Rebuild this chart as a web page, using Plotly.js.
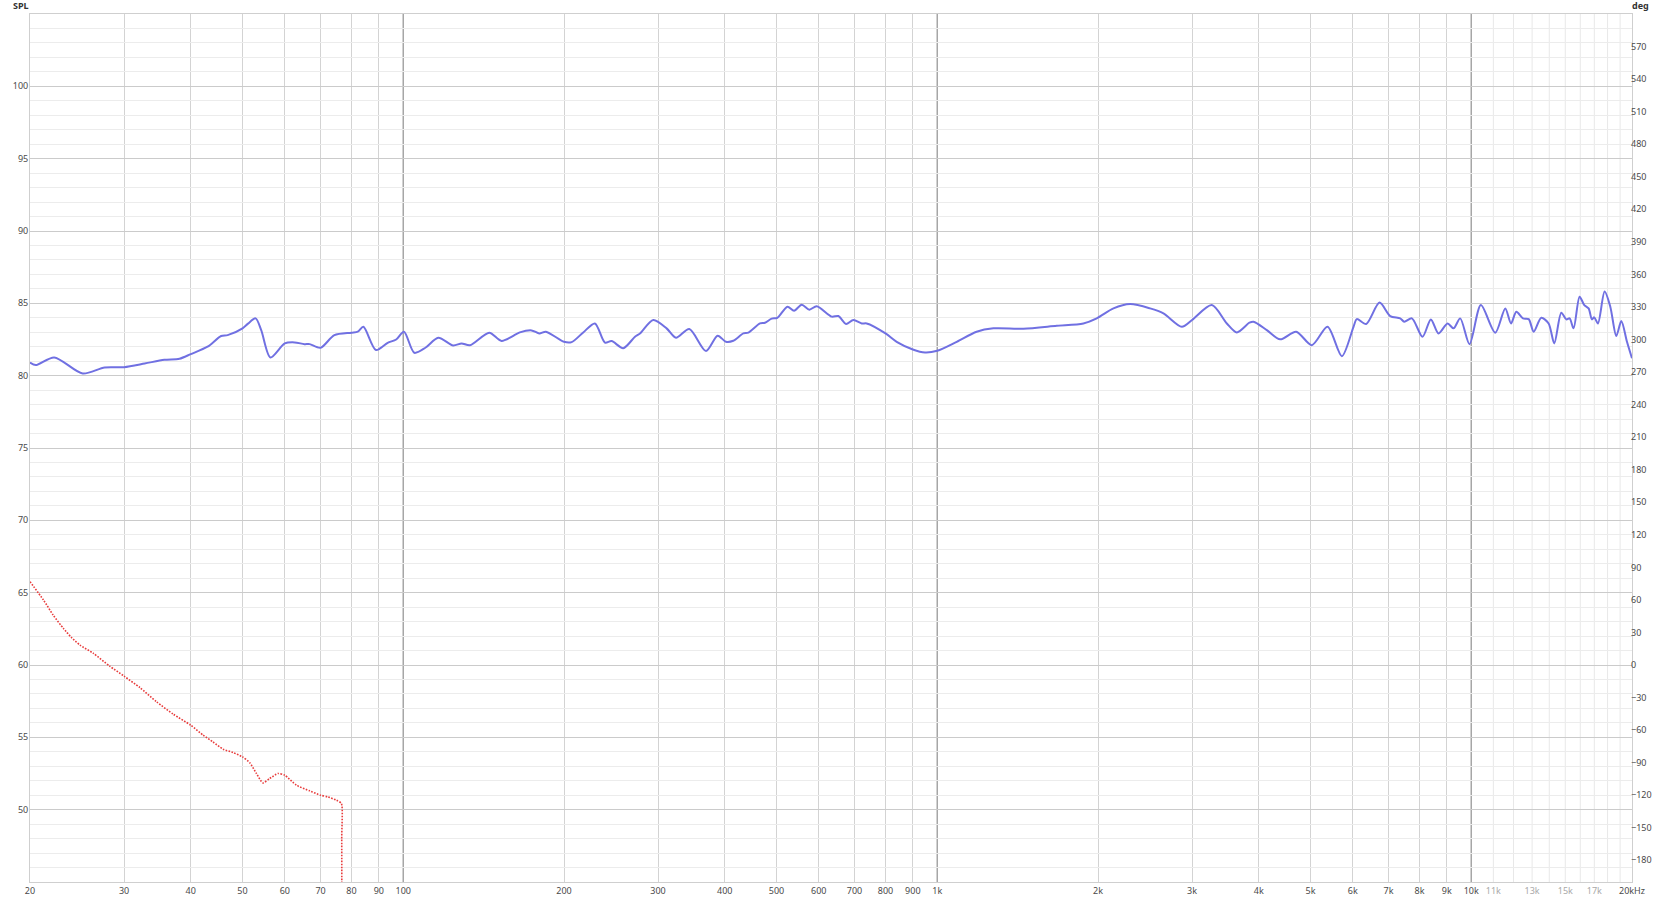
<!DOCTYPE html>
<html><head><meta charset="utf-8">
<script src="https://cdn.plot.ly/plotly-3.0.1.min.js"></script>
<style>html,body{margin:0;padding:0;background:#fff}#chart{width:1670px;height:900px}</style>
</head><body><div id="chart"></div>
<script>
// Frequency response (SPL, dB) — blue solid trace
const freqSpl = [20,20.5,22.2,25.1,27.6,30,32.8,35.7,38.1,40,43,45.6,46.9,50,51.2,52.9,54.2,56.4,60,62.6,65.3,66.8,70,74.3,80,82.2,84.2,88.9,93.5,97,100.3,104.9,110,116.3,124,128.6,133.3,144.9,152.8,165.3,173.9,179.8,185,200,206.7,217.3,228.5,238.6,245.6,258.2,271.6,277.5,293.9,311.3,324.1,343.3,368.9,387.9,402.1,415,433.4,442.9,465.6,475.8,489.7,501.8,524.1,539.3,557.4,576.2,594.6,634.3,652.8,674.8,696.5,722,737.8,800,839.5,900,948.6,1000,1087.6,1185,1274,1450,1674,1878,1989,2138,2297,2504,2652,2871,3000,3267,3486,3639,3843,3911,4142,4387,4700,5029,5381,5724,6019,6106,6357,6733,7050,7362,7491,7742,8105,8402,8685,9028,9265,9535,9926,10424,11090,11580,11870,12145,12500,12810,13090,13525,13960,14305,14744,15066,15283,15548,15954,16280,16587,16826,16996,17268,17771,18213,18691,19099,19572,20000];
const splValues = [80.91,80.73,81.26,80.15,80.57,80.59,80.84,81.1,81.17,81.49,82.0,82.74,82.8,83.27,83.6,83.96,83.15,81.26,82.23,82.3,82.18,82.18,81.93,82.8,82.97,83.04,83.38,81.77,82.27,82.5,83.04,81.58,81.93,82.62,82.09,82.23,82.1,82.97,82.4,82.99,83.13,82.92,83.04,82.34,82.32,82.99,83.61,82.29,82.39,81.9,82.69,82.92,83.85,83.27,82.62,83.22,81.7,82.76,82.34,82.41,82.92,82.97,83.61,83.66,83.94,84.0,84.77,84.49,84.9,84.56,84.8,84.08,84.12,83.57,83.85,83.61,83.61,82.92,82.34,81.81,81.6,81.72,82.34,83.04,83.27,83.25,83.45,83.61,83.96,84.65,84.95,84.65,84.31,83.38,83.85,84.88,83.61,82.99,83.66,83.73,83.15,82.51,83.04,82.11,83.38,81.35,83.38,83.91,83.57,85.05,84.12,83.96,83.73,83.96,82.69,83.89,82.92,83.61,83.27,83.96,82.18,84.88,82.97,84.65,83.61,84.42,83.96,83.91,83.04,84.0,83.61,82.23,84.35,83.89,83.96,83.27,85.46,84.88,84.65,83.89,84.03,83.61,85.81,84.77,82.74,83.78,82.34,81.2];

// Red dotted trace
const freqRed = [20,21.2,22.1,23.1,23.9,24.8,26.3,28.2,30,32.1,34.5,37.1,40,42.2,44,46,48,50,51.6,53.1,54.6,56.2,58.3,60,63.1,66.8,70,72.3,75,76.6,76.7,76.75];
const splRed = [65.76,64.49,63.45,62.53,61.91,61.38,60.8,59.92,59.23,58.45,57.46,56.6,55.84,55.15,54.69,54.18,53.95,53.65,53.24,52.5,51.85,52.15,52.5,52.38,51.69,51.3,51.0,50.88,50.65,50.42,48,30];

// Axis ticks and labels
const xTickVals = [20,30,40,50,60,70,80,90,100,200,300,400,500,600,700,800,900,1000,2000,3000,4000,5000,6000,7000,8000,9000,10000,11000,13000,15000,17000,20000];
const xTickText = ['20','30','40','50','60','70','80','90','100','200','300','400','500','600','700','800','900','1k','2k','3k','4k','5k','6k','7k','8k','9k','10k','11k','13k','15k','17k','20kHz'];
const xFaintLabels = ['11k','13k','15k','17k'];
const xGridMedium = [30,40,50,60,70,80,90,200,300,400,500,600,700,800,900,2000,3000,4000,5000,6000,7000,8000,9000];
const xGridDecade = [100,1000,10000];
const xGridFaint = [11000,12000,13000,14000,15000,16000,17000,18000,19000];
const splTickVals = [50,55,60,65,70,75,80,85,90,95,100];
const degTickVals = [-180,-150,-120,-90,-60,-30,0,30,60,90,120,150,180,210,240,270,300,330,360,390,420,450,480,510,540,570];

const splMinor = [];
for (let v = 46; v < 105; v++) if (v % 5 !== 0) splMinor.push(v);

const tickText = xTickText.map(t => xFaintLabels.includes(t) ? '<span style="color:#a8a8a8">' + t + '</span>' : t);

const shapes = [];
xGridFaint.forEach(f => shapes.push({type:'line', xref:'x', yref:'paper', x0:f, x1:f, y0:0, y1:1, layer:'below', line:{color:'#e8e8e8', width:1}}));
xGridDecade.forEach(f => shapes.push({type:'line', xref:'x', yref:'paper', x0:f, x1:f, y0:0, y1:1, layer:'between', line:{color:'#a6a6a6', width:1.5}}));

const traces = [
  {x:freqSpl, y:splValues, type:'scatter', mode:'lines', line:{color:'rgb(112,112,226)', width:2, shape:'spline', smoothing:0.8}, hoverinfo:'skip', yaxis:'y'},
  {x:freqRed, y:splRed, type:'scatter', mode:'lines', line:{color:'rgb(232,60,60)', width:1.6, dash:'1.6px,1.4px', shape:'spline', smoothing:0.6}, hoverinfo:'skip', yaxis:'y'},
  // empty trace so that the phase (deg) axis is drawn
  {x:[], y:[], type:'scatter', mode:'lines', hoverinfo:'skip', xaxis:'x', yaxis:'y2', showlegend:false}
];

const fontFam = '"Noto Sans", "Open Sans", sans-serif';
const layout = {
  width:1670, height:900,
  margin:{l:30, r:38, t:14, b:18, pad:0},
  paper_bgcolor:'#ffffff', plot_bgcolor:'#ffffff',
  showlegend:false,
  font:{family:fontFam, size:9, color:'#4a4a4a'},
  xaxis:{type:'log', range:[Math.log10(20), Math.log10(20000)], tickmode:'array', tickvals:xTickVals, ticktext:tickText,
    showgrid:false, ticks:'', showline:true, linecolor:'#cfcfcf', linewidth:1, mirror:true, zeroline:false, automargin:false,
    tickfont:{family:fontFam, size:9, color:'#4a4a4a'},
    minor:{tickmode:'array', tickvals:xGridMedium, showgrid:true, gridcolor:'#d3d3d3', gridwidth:1, ticks:''}},
  yaxis:{range:[45,105], tickmode:'array', tickvals:splTickVals, showgrid:true, gridcolor:'#cbcbcb', gridwidth:1,
    showline:true, linecolor:'#cfcfcf', mirror:true, ticks:'', zeroline:false, automargin:false, ticklabelstandoff:-1,
    tickfont:{family:fontFam, size:9, color:'#4a4a4a'},
    minor:{tickmode:'array', tickvals:splMinor, showgrid:true, gridcolor:'#ececec', gridwidth:1, ticks:''}},
  yaxis2:{overlaying:'y', anchor:'x', side:'right', range:[-200,600], autorange:false, tickmode:'array', tickvals:degTickVals, showgrid:false, zeroline:false,
    showticklabels:true, ticks:'', showline:false, automargin:false, ticklabelstandoff:-2, tickfont:{family:fontFam, size:9, color:'#4a4a4a'}},
  annotations:[
    {xref:'paper', yref:'paper', x:0, y:1, xanchor:'right', yanchor:'bottom', xshift:1, yshift:0, showarrow:false, text:'<b>SPL</b>', font:{family:fontFam, size:9, color:'#333'}},
    {xref:'paper', yref:'paper', x:1, y:1, xanchor:'left', yanchor:'bottom', xshift:-2, yshift:0, showarrow:false, text:'<b>deg</b>', font:{family:fontFam, size:9, color:'#333'}}
  ],
  shapes:shapes
};

Plotly.newPlot('chart', traces, layout, {staticPlot:true, displayModeBar:false});
</script>
</body></html>
